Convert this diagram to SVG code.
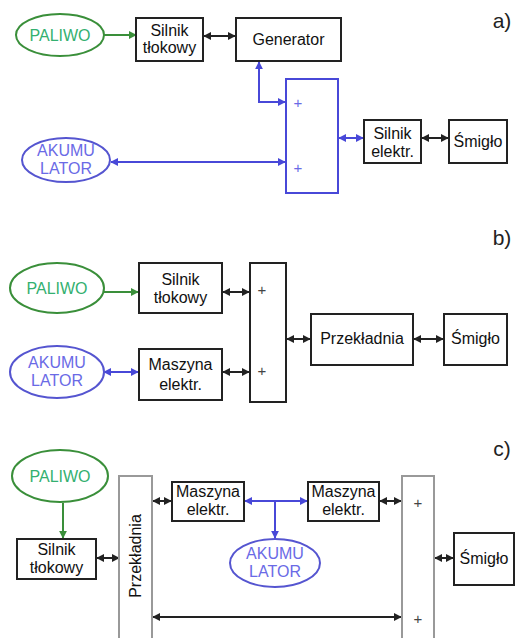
<svg xmlns="http://www.w3.org/2000/svg" width="518" height="638" viewBox="0 0 518 638">
<style>
text{font-family:"Liberation Sans",Arial,sans-serif;font-size:16px;fill:#111;text-anchor:middle}
.box{fill:#fff;stroke:#222;stroke-width:2}
.gbox{fill:#fff;stroke:#999;stroke-width:2}
.bbox{fill:#fff;stroke:#4848d8;stroke-width:2}
.fuel{fill:#fff;stroke:#3a8f3a;stroke-width:2}
.bat{fill:#fff;stroke:#5555d0;stroke-width:2}
.ft{fill:#33b070;font-size:16px}
.bt{fill:#6a6ae6;font-size:16px}
.k{stroke:#222;stroke-width:2;fill:none}
.g{stroke:#3a8f3a;stroke-width:2;fill:none}
.b{stroke:#4848d8;stroke-width:2;fill:none}
.plus{fill:#444;font-size:15px}
.bplus{fill:#6a6ae6;font-size:15px}
.lab{font-size:21px;fill:#222}
</style>
<defs>
<marker id="ak" viewBox="0 0 10 10" refX="9" refY="5" markerWidth="4" markerHeight="4" orient="auto-start-reverse"><path d="M0,0L10,5L0,10z" fill="#222"/></marker>
<marker id="ag" viewBox="0 0 10 10" refX="9" refY="5" markerWidth="4" markerHeight="4" orient="auto-start-reverse"><path d="M0,0L10,5L0,10z" fill="#3a8f3a"/></marker>
<marker id="ab" viewBox="0 0 10 10" refX="9" refY="5" markerWidth="4" markerHeight="4" orient="auto-start-reverse"><path d="M0,0L10,5L0,10z" fill="#4848d8"/></marker>
</defs>

<g id="connectors">
<!-- a -->
<path class="g" d="M104,35H136" marker-end="url(#ag)"/>
<path class="k" d="M204,36H235" marker-start="url(#ak)" marker-end="url(#ak)"/>
<path class="b" d="M259,62V102H285" marker-start="url(#ab)" marker-end="url(#ab)"/>
<path class="b" d="M111,162H285" marker-start="url(#ab)" marker-end="url(#ab)"/>
<path class="b" d="M339,138H363" marker-start="url(#ab)" marker-end="url(#ab)"/>
<path class="k" d="M422,138H448" marker-start="url(#ak)" marker-end="url(#ak)"/>
<!-- b -->
<path class="g" d="M104,292H138" marker-end="url(#ag)"/>
<path class="k" d="M223,292H249" marker-start="url(#ak)" marker-end="url(#ak)"/>
<path class="b" d="M104,372H138" marker-start="url(#ab)" marker-end="url(#ab)"/>
<path class="k" d="M223,372H249" marker-start="url(#ak)" marker-end="url(#ak)"/>
<path class="k" d="M287,339H310" marker-start="url(#ak)" marker-end="url(#ak)"/>
<path class="k" d="M414,339H443" marker-start="url(#ak)" marker-end="url(#ak)"/>
<!-- c -->
<path class="g" d="M63,503V538" marker-end="url(#ag)"/>
<path class="k" d="M97,558H119" marker-start="url(#ak)" marker-end="url(#ak)"/>
<path class="k" d="M153,501H171" marker-start="url(#ak)" marker-end="url(#ak)"/>
<path class="b" d="M245,501H307" marker-start="url(#ab)" marker-end="url(#ab)"/>
<path class="b" d="M275,501V538" marker-end="url(#ab)"/>
<path class="k" d="M380,501H401" marker-start="url(#ak)" marker-end="url(#ak)"/>
<path class="k" d="M435,558H453" marker-start="url(#ak)" marker-end="url(#ak)"/>
<path class="k" d="M153,617H401" marker-start="url(#ak)" marker-end="url(#ak)"/>
</g>

<!-- section a -->
<g id="a-paliwo"><ellipse class="fuel" cx="60" cy="35" rx="44" ry="21"/><text class="ft" x="60" y="41">PALIWO</text></g>
<g id="a-silnik"><rect class="box" x="136" y="18" width="67" height="43"/><text x="169.5" y="36">Silnik</text><text x="169.5" y="53">tłokowy</text></g>
<g id="a-generator"><rect class="box" x="236" y="18" width="105" height="43"/><text x="288.5" y="45">Generator</text></g>
<g id="a-sum"><rect class="bbox" x="286" y="79" width="52" height="114"/><text class="bplus" x="298" y="108">+</text><text class="bplus" x="298" y="173">+</text></g>
<g id="a-akumulator"><ellipse class="bat" cx="66" cy="160" rx="44" ry="22"/><text class="bt" x="66" y="156">AKUMU</text><text class="bt" x="66" y="174">LATOR</text></g>
<g id="a-silnik-elektr"><rect class="box" x="364" y="120" width="57" height="43"/><text x="392.5" y="139">Silnik</text><text x="392.5" y="157">elektr.</text></g>
<g id="a-smiglo"><rect class="box" x="449" y="120" width="58" height="43"/><text x="478" y="147">Śmigło</text></g>
<text class="lab" x="502" y="28">a)</text>

<!-- section b -->
<g id="b-paliwo"><ellipse class="fuel" cx="57" cy="288" rx="47" ry="25"/><text class="ft" x="57" y="294">PALIWO</text></g>
<g id="b-silnik"><rect class="box" x="139" y="263" width="83" height="50"/><text x="180.5" y="285">Silnik</text><text x="180.5" y="303">tłokowy</text></g>
<g id="b-sum"><rect class="box" x="250" y="263" width="36" height="139"/><text class="plus" x="262" y="295">+</text><text class="plus" x="262" y="376">+</text></g>
<g id="b-akumulator"><ellipse class="bat" cx="57" cy="372" rx="47" ry="26"/><text class="bt" x="57" y="368">AKUMU</text><text class="bt" x="57" y="386">LATOR</text></g>
<g id="b-maszyna"><rect class="box" x="139" y="349" width="83" height="51"/><text x="180.5" y="370">Maszyna</text><text x="180.5" y="390">elektr.</text></g>
<g id="b-przekladnia"><rect class="box" x="311" y="314" width="102" height="51"/><text x="362" y="344">Przekładnia</text></g>
<g id="b-smiglo"><rect class="box" x="444" y="314" width="63" height="51"/><text x="475.5" y="344">Śmigło</text></g>
<text class="lab" x="502" y="245">b)</text>

<!-- section c -->
<g id="c-paliwo"><ellipse class="fuel" cx="60" cy="476" rx="48" ry="26"/><text class="ft" x="60" y="482">PALIWO</text></g>
<g id="c-silnik"><rect class="box" x="17" y="539" width="79" height="40"/><text x="56.5" y="555">Silnik</text><text x="56.5" y="573">tłokowy</text></g>
<g id="c-przekladnia"><rect class="gbox" x="119" y="476" width="33" height="170"/><text transform="translate(141,556) rotate(-90)">Przekładnia</text></g>
<g id="c-maszyna-l"><rect class="box" x="172" y="482" width="72" height="39"/><text x="208" y="497">Maszyna</text><text x="208" y="515">elektr.</text></g>
<g id="c-akumulator"><ellipse class="bat" cx="275" cy="563" rx="45" ry="24"/><text class="bt" x="275" y="559">AKUMU</text><text class="bt" x="275" y="577">LATOR</text></g>
<g id="c-maszyna-r"><rect class="box" x="308" y="482" width="71" height="39"/><text x="343.5" y="497">Maszyna</text><text x="343.5" y="515">elektr.</text></g>
<g id="c-sum"><rect class="gbox" x="402" y="476" width="32" height="170"/><text class="plus" x="418" y="508">+</text><text class="plus" x="418" y="624">+</text></g>
<g id="c-smiglo"><rect class="box" x="454" y="533" width="60" height="52"/><text x="484" y="564">Śmigło</text></g>
<text class="lab" x="502" y="456">c)</text>
</svg>
